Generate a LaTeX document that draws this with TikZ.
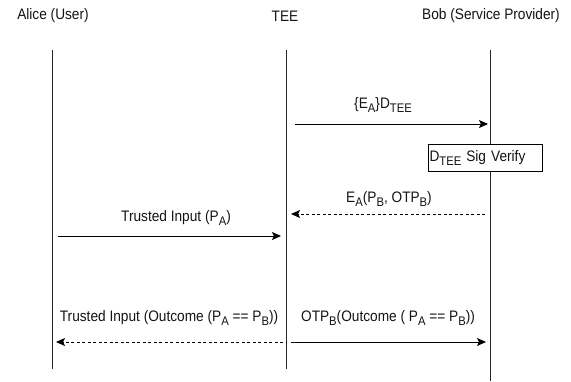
\documentclass[tikz,border=0pt]{standalone}
\usepackage{fontspec}
\setmainfont[FakeStretch=0.9]{Liberation Sans}
\usetikzlibrary{arrows.meta}
\newcommand{\lsub}[1]{\raisebox{-0.4ex}{\fontsize{12.5}{13}\selectfont #1}}
\tikzset{
  txt/.style={inner sep=0pt, text=black!92, font=\fontsize{15.2}{17}\selectfont},
  lifeline/.style={draw=black!85, line width=0.9pt},
  msg/.style={draw=black, line width=0.9pt, -{Stealth[length=9pt,width=8pt,inset=2pt]}},
  msgdash/.style={msg, dash pattern=on 3pt off 2.5pt},
  procbox/.style={draw=black, line width=0.8pt, fill=white, minimum width=114pt, minimum height=27pt, inner sep=1pt, text width=111pt, align=left, text=black!92, font=\fontsize{15.2}{17}\selectfont}
}
\begin{document}
\begin{tikzpicture}[x=1pt,y=-1pt]
\useasboundingbox (0,0) rectangle (571,381);
% headers
\node[txt] (alice) at (53,16) {Alice (User)};
\node[txt] (tee) at (285,16) {TEE};
\node[txt] (bob) at (491,16) {Bob (Service Provider)};
% lifelines
\coordinate (aTop) at (52,50); \coordinate (aBot) at (52,369);
\coordinate (tTop) at (286,50); \coordinate (tBot) at (286,369);
\coordinate (bTop) at (490,50); \coordinate (bBot) at (490,381);
\draw[lifeline] (aTop) -- (aBot);
\draw[lifeline] (tTop) -- (tBot);
\draw[lifeline] (bTop) -- (bBot);
% message 1
\coordinate (m1s) at (295,124); \coordinate (m1e) at (488,124);
\draw[msg] (m1s) -- (m1e);
\node[txt] (l1) at (383,105) {\{E\lsub{A}\}D\lsub{TEE}};
% box
\node[procbox] (verify) at (485,158) {D\lsub{TEE} Sig Verify};
% message 2
\coordinate (m2s) at (485,214); \coordinate (m2e) at (291,214);
\draw[msgdash] (m2s) -- (m2e);
\node[txt] (l2) at (389,199) {E\lsub{A}(P\lsub{B}, OTP\lsub{B})};
% message 3
\coordinate (m3s) at (58,236); \coordinate (m3e) at (281,236);
\draw[msg] (m3s) -- (m3e);
\node[txt] (l3) at (176,218) {Trusted Input (P\lsub{A})};
% message 4
\coordinate (m4s) at (283,342); \coordinate (m4e) at (56,342);
\draw[msgdash] (m4s) -- (m4e);
\node[txt] (l4) at (169,318) {Trusted Input (Outcome (P\lsub{A} == P\lsub{B}))};
% message 5
\coordinate (m5s) at (291,342); \coordinate (m5e) at (486,342);
\draw[msg] (m5s) -- (m5e);
\node[txt] (l5) at (388,318) {OTP\lsub{B}(Outcome ( P\lsub{A} == P\lsub{B}))};
\end{tikzpicture}
\end{document}
